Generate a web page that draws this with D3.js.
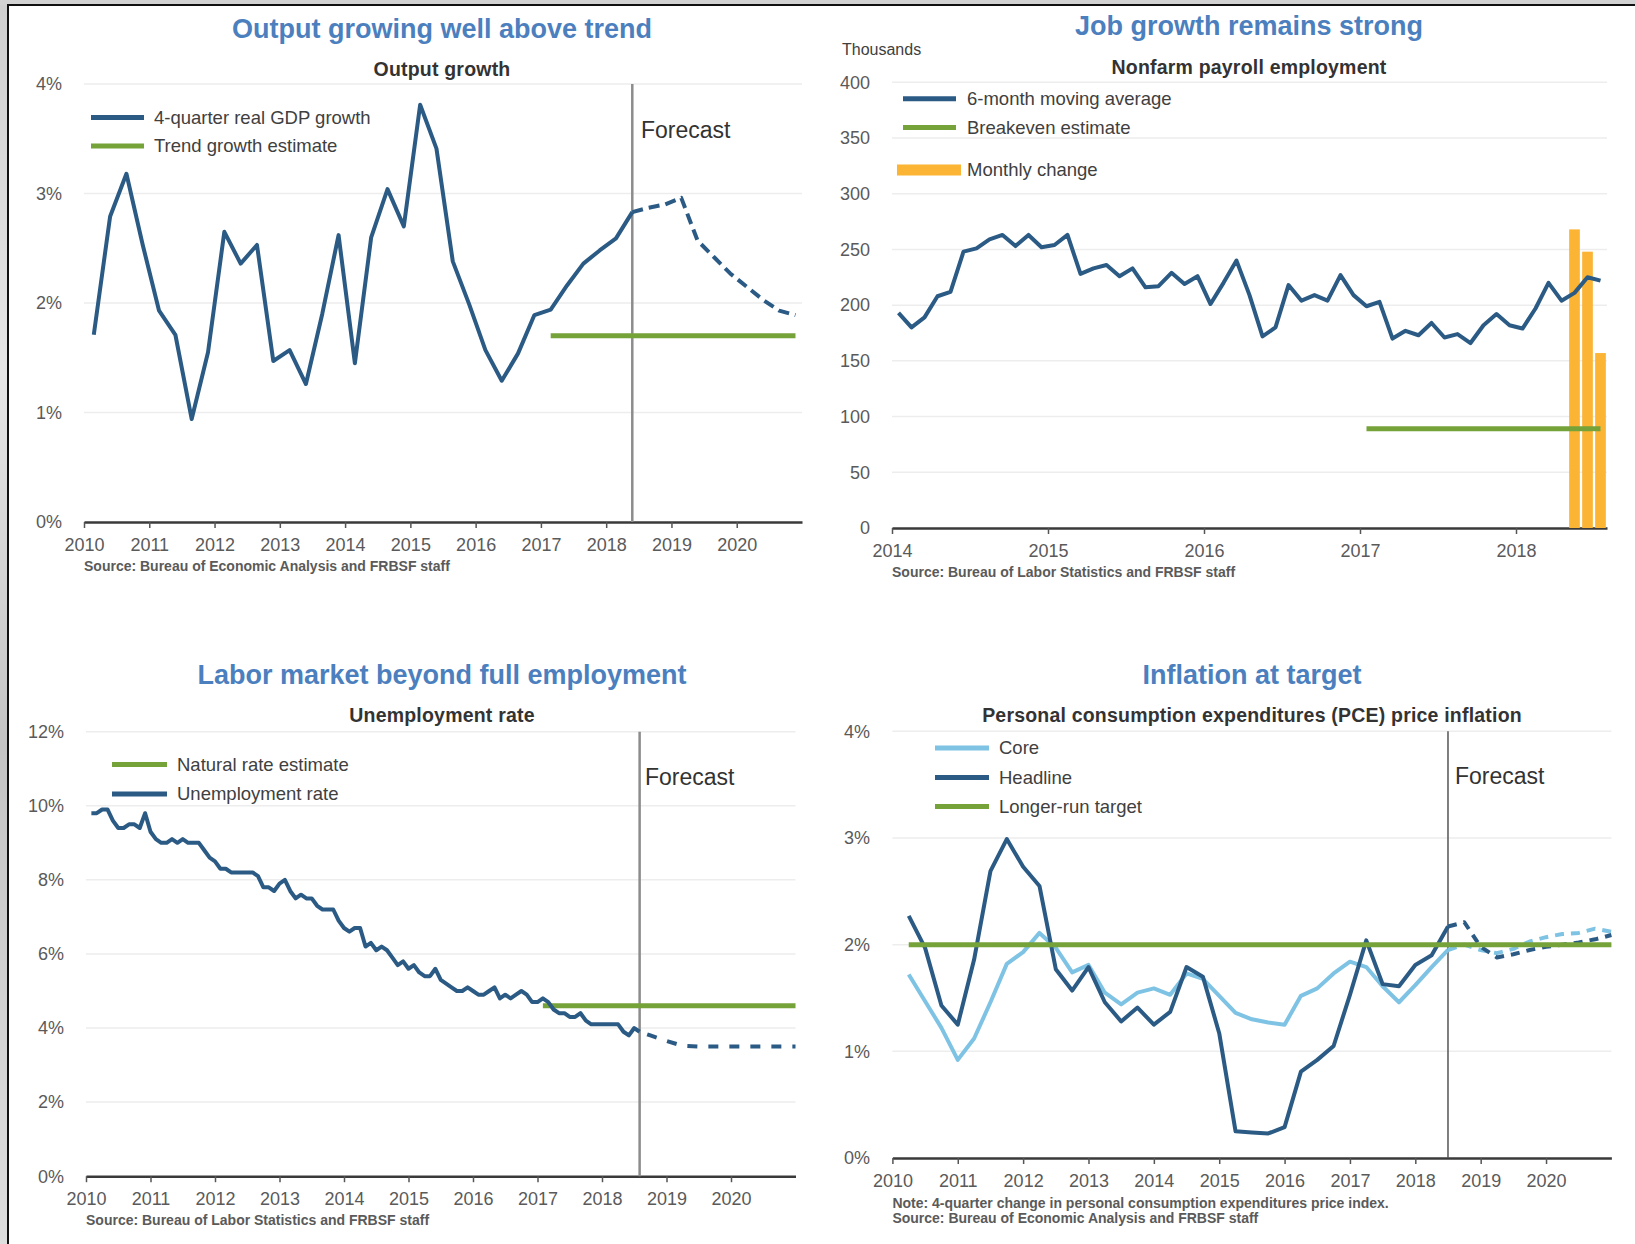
<!DOCTYPE html>
<html>
<head>
<meta charset="utf-8">
<script src="https://cdn.jsdelivr.net/npm/d3@7"></script>
<style>
  body { margin: 0; background: #fff; }
  svg text { font-family: "Liberation Sans", Arial, sans-serif; }
</style>
</head>
<body>
<svg id="chart" width="1635" height="1244"></svg>
<script>
// =========================
// DATI
// =========================

// Output growth: 4-quarter real GDP growth, %, quarterly from 2010Q1
const gdpStart = "2010Q1";
const gdpGrowth = [1.71, 2.79, 3.18, 2.53, 1.93, 1.71, 0.94, 1.55, 2.65, 2.36, 2.53, 1.47,
  1.57, 1.26, 1.90, 2.62, 1.45, 2.60, 3.04, 2.70, 3.81, 3.41, 2.38, 1.99,
  1.57, 1.29, 1.54, 1.89, 1.94, 2.16, 2.36, 2.48, 2.59, 2.83];
const gdpForecastStart = "2018Q2";
const gdpForecast = [2.83, 2.87, 2.90, 2.96, 2.57, 2.42, 2.27, 2.15, 2.03, 1.93, 1.89];
const trendGrowth = 1.7;
const trendSpan = ["2017Q1", "2020Q4"];

// Nonfarm payrolls, thousands, monthly from Jan 2014
const payrollStart = "2014-01";
const payrollAvg = [193, 180, 189, 208, 212, 248, 251, 259, 263, 253, 263, 252,
  254, 263, 228, 233, 236, 226, 233, 216, 217, 229, 219, 226,
  201, 220, 240, 209, 172, 180, 218, 204, 209, 204, 227, 209,
  199, 203, 170, 177, 173, 184, 171, 174, 166, 182, 192, 182,
  179, 197, 220, 204, 211, 225, 222];
const monthlyChangeMonths = ["2018-05", "2018-06", "2018-07"];
const monthlyChange = [268, 248, 157];
const breakeven = 89;
const breakevenSpan = ["2017-01", "2018-07"];

// Unemployment rate, %, monthly from Jan 2010
const unempStart = "2010-01";
const unempRate = [9.8, 9.8, 9.9, 9.9, 9.6, 9.4, 9.4, 9.5, 9.5, 9.4, 9.8, 9.3,
  9.1, 9.0, 9.0, 9.1, 9.0, 9.1, 9.0, 9.0, 9.0, 8.8, 8.6, 8.5,
  8.3, 8.3, 8.2, 8.2, 8.2, 8.2, 8.2, 8.1, 7.8, 7.8, 7.7, 7.9,
  8.0, 7.7, 7.5, 7.6, 7.5, 7.5, 7.3, 7.2, 7.2, 7.2, 6.9, 6.7,
  6.6, 6.7, 6.7, 6.2, 6.3, 6.1, 6.2, 6.1, 5.9, 5.7, 5.8, 5.6,
  5.7, 5.5, 5.4, 5.4, 5.6, 5.3, 5.2, 5.1, 5.0, 5.0, 5.1, 5.0,
  4.9, 4.9, 5.0, 5.1, 4.8, 4.9, 4.8, 4.9, 5.0, 4.9, 4.7, 4.7,
  4.8, 4.7, 4.5, 4.4, 4.4, 4.3, 4.3, 4.4, 4.2, 4.1, 4.1, 4.1,
  4.1, 4.1, 4.1, 3.9, 3.8, 4.0, 3.9];
const unempForecastStart = "2018Q3";
const unempForecast = [3.8, 3.65, 3.52, 3.5, 3.5, 3.5, 3.5, 3.5, 3.5, 3.5];
const naturalRate = 4.6;
const naturalSpan = ["2017-01", "2020-12"];

// PCE inflation, 4-quarter change, %, quarterly from 2010Q1
const pceStart = "2010Q1";
const pceHeadline = [2.27, 1.97, 1.43, 1.25, 1.86, 2.69, 2.99, 2.73, 2.55, 1.77, 1.57, 1.79,
  1.46, 1.28, 1.41, 1.25, 1.37, 1.79, 1.70, 1.17, 0.25, 0.24, 0.23, 0.29,
  0.81, 0.92, 1.05, 1.53, 2.04, 1.63, 1.61, 1.81, 1.90, 2.17];
const pceCore = [1.72, 1.47, 1.22, 0.92, 1.12, 1.46, 1.82, 1.93, 2.11, 1.97, 1.74, 1.81,
  1.55, 1.44, 1.55, 1.59, 1.53, 1.73, 1.68, 1.52, 1.36, 1.30, 1.27, 1.25,
  1.52, 1.59, 1.73, 1.84, 1.79, 1.61, 1.46, 1.62, 1.79, 1.95];
const pceForecastStart = "2018Q2";
const headlineForecast = [2.17, 2.21, 1.98, 1.88, 1.91, 1.95, 1.98, 2.00, 2.02, 2.05, 2.09];
const coreForecast = [1.95, 2.00, 1.95, 1.92, 1.96, 2.03, 2.07, 2.10, 2.11, 2.15, 2.12];
const pceTarget = 2.0;
const targetSpan = ["2010Q1", "2020Q4"];

// tick labels
const yearsLong = [2010, 2011, 2012, 2013, 2014, 2015, 2016, 2017, 2018, 2019, 2020];
const yearsPayroll = [2014, 2015, 2016, 2017, 2018];
const ticksGdp = [0, 1, 2, 3, 4];
const ticksPayroll = [0, 50, 100, 150, 200, 250, 300, 350, 400];
const ticksUnemp = [0, 2, 4, 6, 8, 10, 12];
const ticksPce = [0, 1, 2, 3, 4];

// =========================
// COLORI
// =========================
const DARK = "#2b5b84";
const LIGHT = "#7fc3e4";
const GREEN = "#76a23a";
const ORANGE = "#fbb433";
const TITLE = "#4c7fbe";

// =========================
// PERIODI -> ANNI
// =========================
function quarterLabels(start, n) {
  const y0 = +start.slice(0, 4), q0 = +start.slice(5) - 1;
  return d3.range(n).map(i => `${y0 + Math.floor((q0 + i) / 4)}Q${(q0 + i) % 4 + 1}`);
}
function monthLabels(start, n) {
  const y0 = +start.slice(0, 4), m0 = +start.slice(5, 7) - 1;
  return d3.range(n).map(i => `${y0 + Math.floor((m0 + i) / 12)}-${String((m0 + i) % 12 + 1).padStart(2, "0")}`);
}
const qPos = off => lab => +lab.slice(0, 4) + (+lab.slice(5) - 1) / 4 + off;
const mPos = off => lab => +lab.slice(0, 4) + (+lab.slice(5, 7) - 1) / 12 + off;

const gdpT = qPos(0.15);
const pceT = qPos(0.25);
const payT = mPos(0.5 / 12);
const unT = mPos(1 / 12);

const svg = d3.select("#chart");

// =========================
// CORNICE
// =========================
const grad = svg.append("defs").append("linearGradient")
  .attr("id", "edge").attr("x1", 0).attr("y1", 0).attr("x2", 0).attr("y2", 1);
grad.append("stop").attr("offset", "0%").attr("stop-color", "#cfcfcf");
grad.append("stop").attr("offset", "30%").attr("stop-color", "#e6e6e6");
grad.append("stop").attr("offset", "60%").attr("stop-color", "#c4c4c4");
grad.append("stop").attr("offset", "100%").attr("stop-color", "#dedede");
svg.append("rect").attr("x", 0).attr("y", 0).attr("width", 8).attr("height", 1244).attr("fill", "url(#edge)");
svg.append("rect").attr("x", 0).attr("y", 0).attr("width", 1635).attr("height", 5).attr("fill", "#d2d2d2");
svg.append("line").attr("x1", 8).attr("x2", 1635).attr("y1", 5).attr("y2", 5).attr("stroke", "#111").attr("stroke-width", 2);
svg.append("line").attr("x1", 8).attr("x2", 8).attr("y1", 4).attr("y2", 1244).attr("stroke", "#111").attr("stroke-width", 2);

// =========================
// PANNELLO GENERICO
// =========================
function panel(p) {
  const x = d3.scaleLinear().domain(p.xDomain).range([p.left, p.right]);
  const y = d3.scaleLinear().domain(p.yDomain).range([p.bottom, p.top]);
  const g = svg.append("g");

  g.append("g").selectAll("line")
    .data(p.yTicks.slice(1))
    .join("line")
    .attr("x1", p.left).attr("x2", p.right)
    .attr("y1", d => y(d)).attr("y2", d => y(d))
    .attr("stroke", "#ededed").attr("stroke-width", 1.5);

  g.append("g").selectAll("text")
    .data(p.yTicks)
    .join("text")
    .attr("x", p.labelRight).attr("y", d => y(d)).attr("dy", "0.35em")
    .attr("text-anchor", "end").attr("font-size", 18).attr("fill", "#5a5a5a")
    .text(p.yFormat);

  const axis = g.append("g")
    .attr("transform", `translate(0,${p.bottom})`)
    .call(d3.axisBottom(x).tickValues(p.xTicks).tickFormat(d3.format("d"))
      .tickSize(6).tickSizeOuter(0).tickPadding(10));
  axis.select(".domain").attr("stroke", "#3a3a3a").attr("stroke-width", 2.5);
  axis.selectAll(".tick line").attr("stroke", "#555").attr("stroke-width", 1.5);
  axis.selectAll(".tick text").attr("font-size", 18).attr("fill", "#5a5a5a");

  g.append("text").attr("x", p.center).attr("y", p.titleY).attr("dy", "0.35em")
    .attr("text-anchor", "middle").attr("font-size", 27).attr("font-weight", "bold")
    .attr("fill", TITLE).text(p.title);
  g.append("text").attr("x", p.center).attr("y", p.subY).attr("dy", "0.35em")
    .attr("text-anchor", "middle").attr("font-size", 19.5).attr("font-weight", "bold")
    .attr("letter-spacing", 0.2).attr("fill", "#333").text(p.subtitle);

  p.notes.forEach(n => {
    g.append("text").attr("x", p.left).attr("y", n.y).attr("dy", "0.35em")
      .attr("font-size", 14).attr("font-weight", "bold").attr("fill", "#5a5a5a").text(n.text);
  });

  return { g, x, y };
}

function forecastMark(c, p, t, tx, ty, width, color) {
  c.g.append("line")
    .attr("x1", c.x(t)).attr("x2", c.x(t))
    .attr("y1", c.y(p.yDomain[1])).attr("y2", c.y(0))
    .attr("stroke", color).attr("stroke-width", width);
  c.g.append("text").attr("x", tx).attr("y", ty).attr("dy", "0.35em")
    .attr("font-size", 23).attr("fill", "#333").text("Forecast");
}

function series(c, times, values, color, width, dash) {
  const pts = times.map((t, i) => ({ t, v: values[i] }));
  const path = c.g.append("path")
    .datum(pts)
    .attr("fill", "none").attr("stroke", color).attr("stroke-width", width)
    .attr("stroke-linejoin", "round")
    .attr("d", d3.line().x(d => c.x(d.t)).y(d => c.y(d.v)));
  if (dash) path.attr("stroke-dasharray", dash);
  return path;
}

function legend(g, items, x1, x2, tx) {
  items.forEach(it => {
    if (it.bar) {
      g.append("rect").attr("x", it.bx1).attr("y", it.y - 5.5).attr("width", it.bx2 - it.bx1)
        .attr("height", 11).attr("fill", it.color);
    } else {
      g.append("line").attr("x1", x1).attr("x2", x2).attr("y1", it.y).attr("y2", it.y)
        .attr("stroke", it.color).attr("stroke-width", 5);
    }
    g.append("text").attr("x", tx).attr("y", it.y).attr("dy", "0.35em")
      .attr("font-size", 18.5).attr("fill", "#404040").text(it.label);
  });
}

// =========================
// 1. OUTPUT GROWTH
// =========================
const p1 = {
  xDomain: [2010, 2021], yDomain: [0, 4], left: 84, right: 802, top: 84, bottom: 522,
  yTicks: ticksGdp, yFormat: d => d + "%", labelRight: 62, xTicks: yearsLong,
  center: 442, titleY: 29, subY: 69,
  title: "Output growing well above trend", subtitle: "Output growth",
  notes: [{ y: 566, text: "Source: Bureau of Economic Analysis and FRBSF staff" }]
};
const c1 = panel(p1);
const gdpQ = quarterLabels(gdpStart, gdpGrowth.length);
const gdpFQ = quarterLabels(gdpForecastStart, gdpForecast.length);
forecastMark(c1, p1, gdpT(gdpQ[gdpQ.length - 1]), 641, 130, 2.5, "#8c8c8c");
series(c1, trendSpan.map(gdpT), [trendGrowth, trendGrowth], GREEN, 5);
series(c1, gdpQ.map(gdpT), gdpGrowth, DARK, 4);
series(c1, gdpFQ.map(gdpT), gdpForecast, DARK, 4, "11,6");
legend(c1.g, [
  { y: 117.5, color: DARK, label: "4-quarter real GDP growth" },
  { y: 146, color: GREEN, label: "Trend growth estimate" }
], 91, 144, 154);

// =========================
// 2. PAYROLL
// =========================
const p2 = {
  xDomain: [2014, 2018 + 7 / 12], yDomain: [0, 400], left: 892, right: 1607, top: 82.3, bottom: 528,
  yTicks: ticksPayroll, yFormat: d => d, labelRight: 870, xTicks: yearsPayroll,
  center: 1249, titleY: 26, subY: 67,
  title: "Job growth remains strong", subtitle: "Nonfarm payroll employment",
  notes: [{ y: 572, text: "Source: Bureau of Labor Statistics and FRBSF staff" }]
};
const c2 = panel(p2);
c2.g.append("text").attr("x", 842).attr("y", 49).attr("dy", "0.35em")
  .attr("font-size", 16).attr("fill", "#404040").text("Thousands");
const monthW = c2.x(2014 + 1 / 12) - c2.x(2014);
c2.g.append("g").selectAll("rect")
  .data(monthlyChangeMonths.map((m, i) => ({ t: payT(m), v: monthlyChange[i] })))
  .join("rect")
  .attr("x", d => c2.x(d.t) - monthW * 0.41).attr("width", monthW * 0.82)
  .attr("y", d => c2.y(d.v)).attr("height", d => c2.y(0) - c2.y(d.v))
  .attr("fill", ORANGE);
series(c2, breakevenSpan.map(payT), [breakeven, breakeven], GREEN, 5);
series(c2, monthLabels(payrollStart, payrollAvg.length).map(payT), payrollAvg, DARK, 4);
legend(c2.g, [
  { y: 98.7, color: DARK, label: "6-month moving average" },
  { y: 127.4, color: GREEN, label: "Breakeven estimate" },
  { y: 170, color: ORANGE, label: "Monthly change", bar: true, bx1: 897, bx2: 961 }
], 903, 956, 967);

// =========================
// 3. UNEMPLOYMENT
// =========================
const p3 = {
  xDomain: [2010, 2021], yDomain: [0, 12], left: 86, right: 795.5, top: 731.7, bottom: 1176.2,
  yTicks: ticksUnemp, yFormat: d => d + "%", labelRight: 64, xTicks: yearsLong,
  center: 442, titleY: 675, subY: 715,
  title: "Labor market beyond full employment", subtitle: "Unemployment rate",
  notes: [{ y: 1220.5, text: "Source: Bureau of Labor Statistics and FRBSF staff" }]
};
const c3 = panel(p3);
const unM = monthLabels(unempStart, unempRate.length);
const lastUn = unM[unM.length - 1];
forecastMark(c3, p3, unT(lastUn), 645, 777, 2.5, "#8c8c8c");
series(c3, naturalSpan.map(unT), [naturalRate, naturalRate], GREEN, 5);
series(c3, unM.map(unT), unempRate, DARK, 4);
series(c3, [unT(lastUn)].concat(quarterLabels(unempForecastStart, unempForecast.length).map(pceT)),
  [unempRate[unempRate.length - 1]].concat(unempForecast), DARK, 4, "10,11")
  .attr("stroke-dashoffset", 13);
legend(c3.g, [
  { y: 764.4, color: GREEN, label: "Natural rate estimate" },
  { y: 794, color: DARK, label: "Unemployment rate" }
], 112, 167, 177);

// =========================
// 4. PCE INFLATION
// =========================
const p4 = {
  xDomain: [2010, 2021], yDomain: [0, 4], left: 892.4, right: 1611.4, top: 731.3, bottom: 1158,
  yTicks: ticksPce, yFormat: d => d + "%", labelRight: 870, xTicks: yearsLong,
  center: 1252, titleY: 675, subY: 715,
  title: "Inflation at target", subtitle: "Personal consumption expenditures (PCE) price inflation",
  notes: [
    { y: 1203, text: "Note: 4-quarter change in personal consumption expenditures price index." },
    { y: 1218, text: "Source: Bureau of Economic Analysis and FRBSF staff" }
  ]
};
const c4 = panel(p4);
const pceQ = quarterLabels(pceStart, pceHeadline.length);
const pceFQ = quarterLabels(pceForecastStart, headlineForecast.length);
forecastMark(c4, p4, pceT(pceQ[pceQ.length - 1]), 1455, 776, 1.5, "#555");
series(c4, pceQ.map(pceT), pceCore, LIGHT, 4);
series(c4, pceQ.map(pceT), pceHeadline, DARK, 4);
series(c4, pceFQ.map(pceT), coreForecast, LIGHT, 4, "9,7");
series(c4, pceFQ.map(pceT), headlineForecast, DARK, 4, "9,7");
series(c4, targetSpan.map(pceT), [pceTarget, pceTarget], GREEN, 5);
legend(c4.g, [
  { y: 748, color: LIGHT, label: "Core" },
  { y: 777.5, color: DARK, label: "Headline" },
  { y: 806.4, color: GREEN, label: "Longer-run target" }
], 935, 989, 999);
</script>
</body>
</html>
